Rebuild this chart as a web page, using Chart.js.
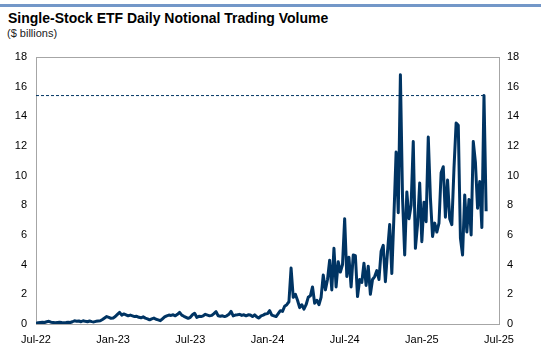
<!DOCTYPE html>
<html>
<head>
<meta charset="utf-8">
<script src="https://cdn.jsdelivr.net/npm/chart.js@4"></script>
<style>
  html, body { margin: 0; padding: 0; background: #fff; }
  #wrap { position: relative; width: 541px; height: 359px; overflow: hidden; font-family: "Liberation Sans", Arial, sans-serif; }
  #bar { position: absolute; left: 0; top: 4px; width: 541px; height: 3px; background: #7397c8; }
  #title { position: absolute; left: 8px; top: 10px; font-size: 14px; line-height: 16px; font-weight: bold; color: #000; white-space: nowrap; }
  #sub { position: absolute; left: 7px; top: 27px; font-size: 11px; line-height: 13px; color: #222; white-space: nowrap; }
  canvas { position: absolute; left: 0; top: 0; }
</style>
</head>
<body>
<div id="wrap">
  <div id="bar"></div>
  <div id="title">Single-Stock ETF Daily Notional Trading Volume</div>
  <div id="sub">($ billions)</div>
  <canvas id="c" width="541" height="359"></canvas>
</div>
<script>
// x-axis tick labels, one every 6 months starting Jul-22
const tickLabels = ["Jul-22", "Jan-23", "Jul-23", "Jan-24", "Jul-24", "Jan-25", "Jul-25"];
// y-axis ticks ($ billions)
const yTicks = [0, 2, 4, 6, 8, 10, 12, 14, 16, 18];
// daily notional volume, sampled every 1/6 month from Jul-22 ($ billions)
const sampleStepMonths = 1 / 6;
const volume2022H2 = [
  0.05, 0.08, 0.10, 0.12, 0.10, 0.15, 0.18, 0.12, 0.10, 0.08,
  0.10, 0.12, 0.10, 0.09, 0.10, 0.12, 0.10, 0.15, 0.22, 0.18,
  0.20, 0.15, 0.22, 0.18, 0.15, 0.20, 0.16, 0.14, 0.18, 0.20,
  0.22, 0.30, 0.40, 0.50, 0.45, 0.38
];
const volume2023 = [
  0.40, 0.50, 0.65, 0.78, 0.60, 0.68, 0.62, 0.55, 0.60, 0.55,
  0.50, 0.52, 0.45, 0.42, 0.48, 0.40, 0.35, 0.28, 0.35, 0.40,
  0.32, 0.28, 0.22, 0.35, 0.48, 0.55, 0.60, 0.58, 0.62, 0.55,
  0.65, 0.78, 0.60, 0.52, 0.45, 0.38, 0.45, 0.62, 0.72, 0.45,
  0.52, 0.50, 0.55, 0.65, 0.60, 0.55, 0.58, 0.70, 0.83, 0.55,
  0.52, 0.55, 0.50, 0.55, 0.65, 0.85, 0.55, 0.60, 0.62, 0.65,
  0.58, 0.62, 0.55, 0.62, 0.60, 0.50, 0.62, 0.48
];
const volume2024 = [
  0.40, 0.55, 0.60, 0.68, 0.70, 0.90, 0.60, 0.55, 0.50, 0.70,
  0.90, 0.85, 1.20, 1.30, 1.50, 3.77, 1.80, 2.00, 1.60, 1.10,
  1.30, 1.00, 1.30, 1.80, 1.90, 2.50, 1.40, 1.60, 1.30, 1.80,
  3.30, 2.30, 3.00, 4.30, 2.30, 5.10, 2.50, 4.20, 3.50, 4.00,
  7.10, 3.20, 4.50, 2.50, 4.65, 4.60, 1.85, 3.00, 2.80, 4.10,
  2.60, 3.90, 2.00, 3.00, 3.20, 3.60, 3.00, 4.90, 5.30, 2.85,
  4.90, 6.70, 3.40, 7.35, 11.6, 7.50, 16.8, 8.50, 4.65, 8.90,
  7.10, 8.00
];
const volume2025 = [
  12.3, 5.10, 6.70, 9.50, 5.55, 8.20, 6.90, 12.6, 8.50, 5.90,
  6.80, 6.20, 6.80, 10.2, 10.6, 7.20, 9.70, 7.10, 6.70, 10.5,
  13.55, 13.4, 5.80, 4.65, 8.70, 6.20, 8.40, 6.00, 12.3, 10.9,
  7.80, 9.60, 6.50, 15.4, 7.60
];
// recent high marked by the dashed reference line ($ billions)
const recentHigh = 15.4;

const volume = [].concat(volume2022H2, volume2023, volume2024, volume2025);
const points = volume.map((v, i) => ({ x: i * sampleStepMonths, y: v }));
const lastX = (volume.length - 2) * sampleStepMonths;
const refLine = [{ x: 0, y: recentHigh }, { x: lastX, y: recentHigh }];

const grey = '#a6a6a6';
const fontSpec = { family: '"Liberation Sans", Arial, sans-serif', size: 11 };

const boxPlugin = {
  id: 'box',
  beforeDatasetsDraw(chart) {
    const a = chart.chartArea, ctx = chart.ctx;
    ctx.save();
    ctx.strokeStyle = grey;
    ctx.lineWidth = 1;
    ctx.strokeRect(Math.round(a.left) + 0.5, Math.round(a.top) + 0.5,
                   Math.round(a.right - a.left), Math.round(a.bottom - a.top));
    ctx.restore();
  }
};

new Chart(document.getElementById('c'), {
  type: 'line',
  data: {
    datasets: [
      {
        data: points,
        borderColor: '#003463',
        borderWidth: 3,
        pointRadius: 0,
        tension: 0,
        borderJoinStyle: 'round',
        order: 1
      },
      {
        data: refLine,
        borderColor: '#003463',
        borderWidth: 1,
        borderDash: [3, 2],
        pointRadius: 0,
        order: 2
      }
    ]
  },
  options: {
    responsive: false,
    animation: false,
    devicePixelRatio: 1,
    layout: { padding: { top: 57, left: 0, right: 0, bottom: 0 } },
    plugins: { legend: { display: false }, tooltip: { enabled: false }, title: { display: false } },
    scales: {
      x: {
        type: 'linear',
        min: 0,
        max: (tickLabels.length - 1) * 6,
        afterBuildTicks(s) { s.ticks = tickLabels.map((_, i) => ({ value: i * 6 })); },
        afterFit(s) { s.height = 35; },
        grid: { display: false, drawTicks: false },
        border: { display: false },
        ticks: {
          autoSkip: false, maxRotation: 0, padding: 9, color: '#000', font: fontSpec,
          callback: (v) => tickLabels[Math.round(v / 6)]
        }
      },
      y: {
        position: 'left',
        min: yTicks[0],
        max: yTicks[yTicks.length - 1],
        afterBuildTicks(s) { s.ticks = yTicks.map(v => ({ value: v })); },
        afterFit(s) { s.width = 36; },
        grid: { display: false, drawTicks: false },
        border: { display: false },
        ticks: { padding: 9, color: '#000', font: fontSpec }
      },
      y2: {
        position: 'right',
        min: yTicks[0],
        max: yTicks[yTicks.length - 1],
        afterBuildTicks(s) { s.ticks = yTicks.map(v => ({ value: v })); },
        afterFit(s) { s.width = 42; },
        grid: { display: false, drawTicks: false },
        border: { display: false },
        ticks: { padding: 8, color: '#000', font: fontSpec }
      }
    }
  },
  plugins: [boxPlugin]
});
</script>
</body>
</html>
